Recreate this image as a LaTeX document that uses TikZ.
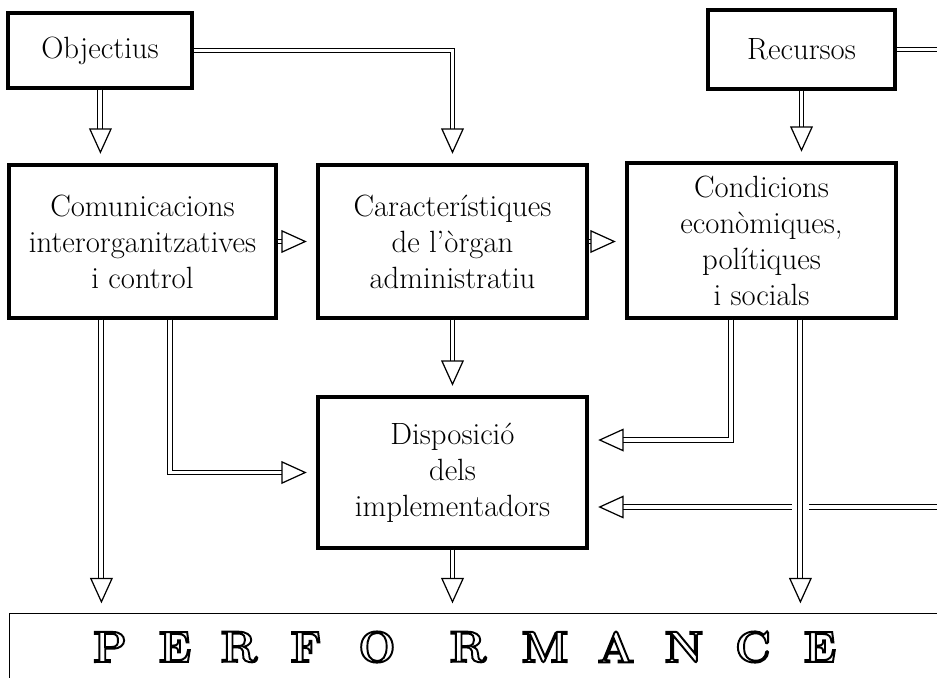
\documentclass[tikz,border=0pt]{standalone}
\usepackage{tikz}
\usetikzlibrary{arrows.meta,calc,positioning}
\newcommand\hollow[1]{\special{pdf:literal direct 1.1 w 1 Tr}#1\special{pdf:literal direct 0 Tr}}

\begin{document}
\begin{tikzpicture}[x=0.02cm,y=-0.02cm,
box/.style={draw,line width=1.8pt,align=center,inner sep=0pt,font=\fontsize{17.5}{20.5}\selectfont},
arr/.style={double,double distance=2.2pt,line width=0.6pt,shorten >=5.5pt,
  -{Triangle[open,length=14.5pt,width=13pt,line width=0.7pt]}},
ltr/.style={inner sep=0pt,font=\fontsize{25}{25}\selectfont\bfseries}]
\useasboundingbox (0,0) rectangle (937,677);
\clip (0,0) rectangle (937,677);
\node[box,minimum width=3.68cm,minimum height=1.5cm] (Ob) at (100,50.5) {Objectius};
\node[box,minimum width=3.74cm,minimum height=1.58cm] (Rc) at (801.5,49.5) {Recursos};
\node[box,minimum width=5.34cm,minimum height=3.06cm] (Cm) at (142.5,241.5) {Comunicacions\\interorganitzatives\\i control};
\node[box,minimum width=5.38cm,minimum height=3.06cm] (Ca) at (452.5,241.5) {Característiques\\de l'òrgan\\administratiu};
\node[box,minimum width=5.38cm,minimum height=3.1cm] (Cd) at (761.5,240.5) {Condicions\\econòmiques,\\polítiques\\i socials};
\node[box,minimum width=5.38cm,minimum height=3.02cm] (Dp) at (452.5,472.5) {Disposició\\dels\\implementadors};
\node[draw,line width=0.8pt,anchor=north west,minimum width=20cm,minimum height=2cm] (Pf) at (9,613) {};
% lletres de la franja
\foreach \lx/\lt in {110/P,175/E,239/R,306/F,377/O,468/R,545/M,616/A,684/N,753/C,820/E}
  \node[ltr] (L\lx) at (\lx,647) {\hollow{\lt}};
% fletxes
\draw[arr] ([xshift=1.88cm]Ob.south west) -- ([xshift=1.88cm]Ob.south west |- Cm.north);
\draw[arr] (Rc.south) -- (Rc.south |- Cd.north);
\draw[arr] (Cm.east) -- (Ca.west);
\draw[arr] (Ca.east) -- (Ca.east -| Cd.west);
\draw[arr] (Ca.south) -- (Dp.north);
\draw[arr] (Dp.south) -- (Dp.south |- Pf.north);
\draw[arr] ([xshift=1.88cm]Cm.south west) -- ([xshift=1.88cm]Cm.south west |- Pf.north);
\draw[arr] (Ob.east) -| (Ca.north);
\draw[arr] ([xshift=3.26cm]Cm.south west) |- (Dp.west);
\draw[arr] ([xshift=2.12cm]Cd.south west) |- ([yshift=0.65cm]Dp.east);
\draw[arr] (Rc.east) -- ++(136.5,0) |- ([yshift=-0.69cm]Dp.east);
\draw[arr,preaction={draw=white,line width=9.5pt,-,shorten <=100pt,shorten >=52pt}]
([xshift=3.5cm]Cd.south west) -- ([xshift=3.5cm]Cd.south west |- Pf.north);
\end{tikzpicture}
\end{document}
